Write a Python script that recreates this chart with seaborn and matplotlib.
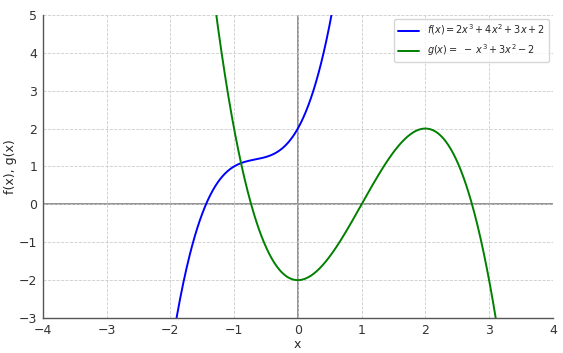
import numpy as np
import pandas as pd
import seaborn as sns
import matplotlib
matplotlib.use("Agg")
import matplotlib.pyplot as plt

# Polynomial coefficients (highest power first)
f_coeffs = [2, 4, 3, 2]
g_coeffs = [-1, 3, 0, -2]
f_label = r"$f(x) = 2x^3 + 4x^2 + 3x + 2$"
g_label = r"$g(x) = \;-\;x^3 + 3x^2 - 2$"
x_ticks = [-4, -3, -2, -1, 0, 1, 2, 3, 4]
y_ticks = [-3, -2, -1, 0, 1, 2, 3, 4, 5]

x = np.linspace(-4, 4, 800)
df = pd.DataFrame({
    "x": np.concatenate([x, x]),
    "y": np.concatenate([np.polyval(f_coeffs, x), np.polyval(g_coeffs, x)]),
    "fn": [f_label] * len(x) + [g_label] * len(x),
})

sns.set_style("white")
plt.rcParams["font.family"] = ["DejaVu Sans"]
fig = plt.figure(figsize=(5.63, 3.53), dpi=100)
ax = fig.add_axes([0.076, 0.099, 0.906, 0.859])

sns.lineplot(data=df, x="x", y="y", hue="fn", palette=["blue", "green"],
             ax=ax, linewidth=1.4, sort=False, estimator=None)
ax.axhline(0, color="gray", linewidth=1.2, zorder=0.5)
ax.axvline(0, color="gray", linewidth=1.2, zorder=0.5)
ax.set_xlim(-4, 4)
ax.set_ylim(-3, 5)
ax.set_xticks(x_ticks)
ax.set_yticks(y_ticks)
ax.grid(True, linestyle="--", color="#cccccc", linewidth=0.6)
ax.set_axisbelow(True)
ax.set_xlabel("x", fontsize=9, labelpad=1)
ax.set_ylabel("f(x), g(x)", fontsize=9, labelpad=1)
ax.tick_params(labelsize=9, length=2.5, pad=1.5, colors="#333333", width=0.8)
for s in ["top", "right"]:
    ax.spines[s].set_visible(False)
for s in ["left", "bottom"]:
    ax.spines[s].set_color("#555555")
    ax.spines[s].set_linewidth(1.0)
leg = ax.legend(loc="upper right", fontsize=7, frameon=True, title=None,
                borderaxespad=0.4, handlelength=2.2)
leg.get_frame().set_edgecolor("#cccccc")
fig.savefig("out.png", dpi=100)
